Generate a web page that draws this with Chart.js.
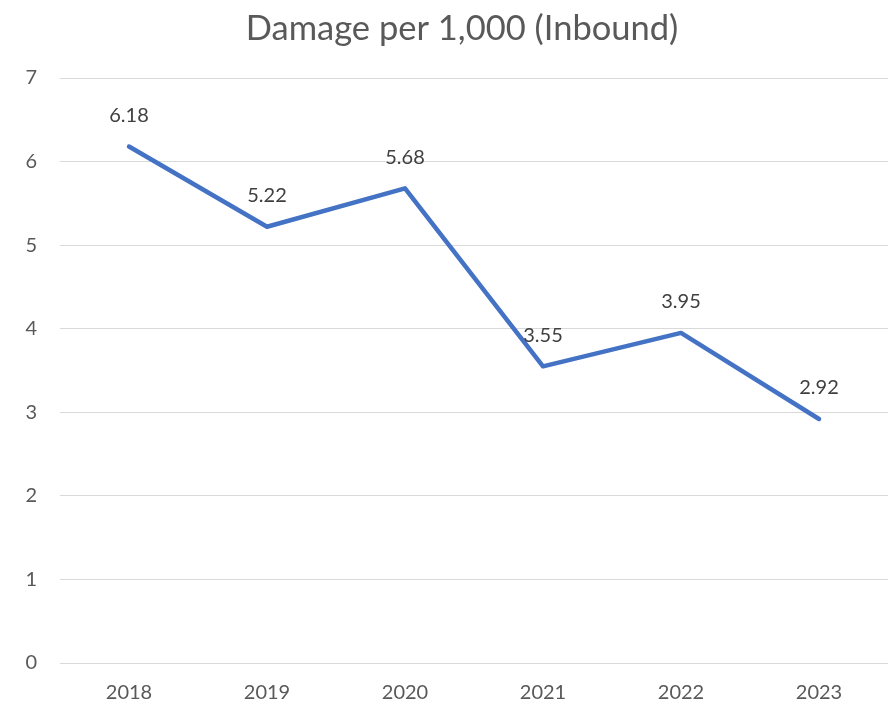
<!DOCTYPE html>
<html>
<head>
<meta charset="utf-8">
<script src="https://cdn.jsdelivr.net/npm/chart.js@4"></script>
<style>
html,body{margin:0;padding:0;background:#fff;}
#wrap{width:895px;height:704px;position:relative;}
</style>
</head>
<body>
<div id="wrap"><canvas id="c" width="895" height="704"></canvas></div>
<script>
const years = ["2018","2019","2020","2021","2022","2023"];
const damagePer1000 = [6.18, 5.22, 5.68, 3.55, 3.95, 2.92];
const valueLabels = ["6.18","5.22","5.68","3.55","3.95","2.92"];
const chartTitle = "Damage per 1,000 (Inbound)";

const FONT = "Lato, 'Open Sans', sans-serif";

const labelPlugin = {
  id: 'valueLabels',
  afterDatasetsDraw(chart) {
    const ctx = chart.ctx;
    const meta = chart.getDatasetMeta(0);
    ctx.save();
    ctx.font = "20px " + FONT;
    ctx.fillStyle = "#404040";
    ctx.textAlign = "center";
    ctx.textBaseline = "middle";
    meta.data.forEach((pt, i) => {
      ctx.fillText(valueLabels[i], pt.x, pt.y - 31);
    });
    ctx.restore();
  }
};

const titlePlugin = {
  id: 'offsetTitle',
  afterDraw(chart) {
    const ctx = chart.ctx;
    ctx.save();
    ctx.font = "34.5px " + FONT;
    ctx.fillStyle = "#595959";
    ctx.textAlign = "center";
    ctx.textBaseline = "alphabetic";
    ctx.fillText(chartTitle, 462, 40);
    ctx.restore();
  }
};

new Chart(document.getElementById('c'), {
  type: 'line',
  data: {
    labels: years,
    datasets: [{
      data: damagePer1000,
      borderColor: '#4472C4',
      borderWidth: 4.5,
      pointRadius: 0,
      tension: 0,
      borderCapStyle: 'round',
      borderJoinStyle: 'round',
      fill: false
    }]
  },
  options: {
    responsive: false,
    animation: false,
    devicePixelRatio: 1,
    layout: { padding: { left: 0, right: 7, top: 78, bottom: 0 } },
    plugins: {
      legend: { display: false },
      tooltip: { enabled: false },
      title: { display: false }
    },
    scales: {
      x: {
        offset: true,
        grid: { display: false, drawTicks: false },
        border: { display: false },
        ticks: {
          color: '#595959',
          font: { family: FONT, size: 20 },
          padding: 18,
          maxRotation: 0
        },
        afterFit(scale) { scale.height = 41; }
      },
      y: {
        min: 0,
        max: 7,
        grid: { color: '#d9d9d9', lineWidth: 1, drawTicks: false },
        border: { display: false },
        ticks: {
          stepSize: 1,
          color: '#595959',
          font: { family: FONT, size: 20 },
          padding: 23
        },
        afterFit(scale) { scale.width = 60; }
      }
    }
  },
  plugins: [labelPlugin, titlePlugin]
});
</script>
</body>
</html>
